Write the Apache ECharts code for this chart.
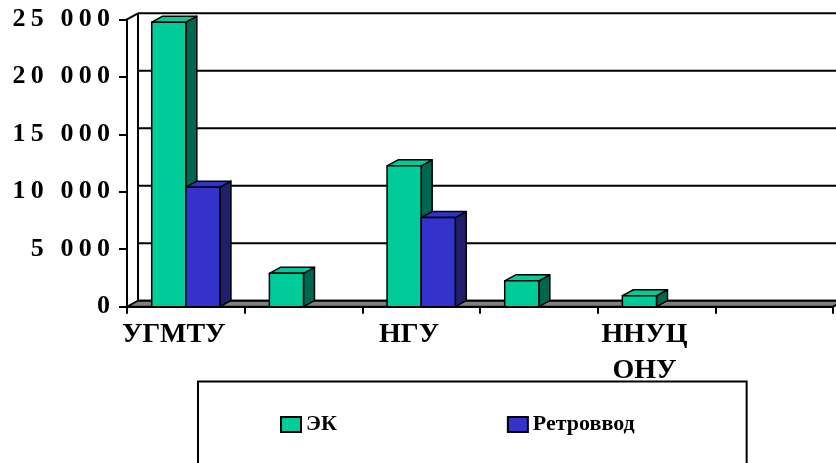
<!DOCTYPE html>
<html>
<head>
<meta charset="utf-8">
<script src="https://cdn.jsdelivr.net/npm/echarts@6/dist/echarts.min.js"></script>
<style>
  html, body { margin: 0; padding: 0; background: #fff; }
  #chart { width: 836px; height: 463px; }
</style>
</head>
<body>
<div id="chart"></div>
<script>
// данные
var categories = ['УГМТУ', '', 'НГУ', '', 'ННУЦ\nОНУ', ''];
var ekValues = [24750, 2900, 12250, 2250, 950, 0];
var retroValues = [10400, 0, 7750, 0, 0, 0];
var yTicks = [0, 5000, 10000, 15000, 20000, 25000];

var DX = 11, DY = -6;          // смещение "глубины" 3D
var BAR_FRAC = 0.29;           // ширина одного столбца от ширины категории
var FONT = 'Liberation Serif';

// подписи оси Y с разрядкой, как в оригинале
function yLabel(v) {
  var s = String(v);
  var head = s.length > 3 ? s.slice(0, s.length - 3) : '';
  var tail = s.length > 3 ? s.slice(-3) : s;
  var sp = '\u2009';
  var out = head.split('').join(sp);
  if (head) out += sp + ' ' + sp;
  return out + tail.split('').join(sp);
}

// стенка и пол
function renderFrame(params, api) {
  var cs = params.coordSys;
  var v = api.value(0);
  var p = api.coord([0, v]);
  var children = [{
    type: 'line',
    shape: { x1: cs.x + DX, y1: p[1] + DY, x2: cs.x + cs.width + DX, y2: p[1] + DY },
    style: { stroke: '#000', lineWidth: 2 }
  }];
  if (params.dataIndex === 0) {
    var top = api.coord([0, yTicks[yTicks.length - 1]]);
    var y0 = p[1];
    children.push({
      type: 'polygon',
      shape: { points: [[cs.x, y0], [cs.x + cs.width, y0], [cs.x + cs.width + DX, y0 + DY], [cs.x + DX, y0 + DY]] },
      style: { fill: '#808080', stroke: '#000', lineWidth: 2 }
    });
    children.push({
      type: 'line',
      shape: { x1: cs.x + DX, y1: y0 + DY, x2: cs.x + DX, y2: top[1] + DY },
      style: { stroke: '#000', lineWidth: 2 }
    });
    children.push({
      type: 'line',
      shape: { x1: cs.x, y1: top[1], x2: cs.x + DX, y2: top[1] + DY },
      style: { stroke: '#000', lineWidth: 2 }
    });
  }
  return { type: 'group', children: children };
}

function makeBar(slot, front, side) {
  return function (params, api) {
    var v = api.value(1);
    if (!v) return;
    var cat = api.value(0);
    var band = api.size([1, 0])[0];
    var w = band * BAR_FRAC;
    var base = api.coord([cat, 0]);
    var topP = api.coord([cat, v]);
    var x0 = base[0] - w + slot * w;
    var yb = base[1], yt = topP[1];
    var line = { stroke: '#000', lineWidth: 1.5, lineJoin: 'round' };
    return {
      type: 'group',
      children: [
        { type: 'polygon', shape: { points: [[x0 + w, yt], [x0 + w + DX, yt + DY], [x0 + w + DX, yb + DY], [x0 + w, yb]] },
          style: Object.assign({ fill: side }, line) },
        { type: 'polygon', shape: { points: [[x0, yt], [x0 + w, yt], [x0 + w + DX, yt + DY], [x0 + DX, yt + DY]] },
          style: Object.assign({ fill: front }, line) },
        { type: 'rect', shape: { x: x0, y: yt, width: w, height: yb - yt },
          style: Object.assign({ fill: front }, line) }
      ]
    };
  };
}

var chart = echarts.init(document.getElementById('chart'));
chart.setOption({
  backgroundColor: '#fff',
  animation: false,
  grid: { left: 127, right: 3, top: 19.3, bottom: 156.3 },
  legend: {
    left: 198,
    top: 381.5,
    padding: [32, 112, 70, 82],
    itemGap: 170,
    itemWidth: 20,
    itemHeight: 15,
    borderColor: '#000',
    borderWidth: 2,
    backgroundColor: '#fff',
    icon: 'rect',
    itemStyle: { borderColor: '#000', borderWidth: 2 },
    textStyle: { fontFamily: FONT, fontWeight: 'bold', fontSize: 22, color: '#000' },
    data: ['ЭК', 'Ретроввод']
  },
  xAxis: {
    type: 'category',
    data: categories,
    boundaryGap: true,
    axisLine: { show: true, lineStyle: { color: '#000', width: 2 } },
    axisTick: { show: true, interval: 0, length: 7, lineStyle: { color: '#000', width: 2 } },
    axisLabel: {
      interval: 0, margin: 10, padding: [0, 24, 0, 0],
      fontFamily: FONT, fontWeight: 'bold', fontSize: 28, lineHeight: 36, color: '#000'
    },
    splitLine: { show: false }
  },
  yAxis: {
    type: 'value',
    min: 0, max: 25000, interval: 5000,
    axisLine: { show: true, lineStyle: { color: '#000', width: 2 } },
    axisTick: { show: true, length: 8, lineStyle: { color: '#000', width: 2 } },
    axisLabel: {
      margin: 17, formatter: yLabel,
      fontFamily: FONT, fontWeight: 'bold', fontSize: 26, color: '#000'
    },
    splitLine: { show: false }
  },
  series: [
    {
      type: 'custom', name: 'frame', silent: true, z: 1,
      renderItem: renderFrame,
      encode: { x: -1, y: 0 },
      data: yTicks.map(function (v) { return [v]; })
    },
    {
      type: 'custom', name: 'ЭК', z: 2,
      itemStyle: { color: '#00CC99' },
      renderItem: makeBar(0, '#00CC99', '#006650'),
      encode: { x: 0, y: 1 },
      data: ekValues.map(function (v, i) { return [i, v]; })
    },
    {
      type: 'custom', name: 'Ретроввод', z: 2,
      itemStyle: { color: '#3333CC' },
      renderItem: makeBar(1, '#3333CC', '#1F1F6B'),
      encode: { x: 0, y: 1 },
      data: retroValues.map(function (v, i) { return [i, v]; })
    }
  ]
});
</script>
</body>
</html>
